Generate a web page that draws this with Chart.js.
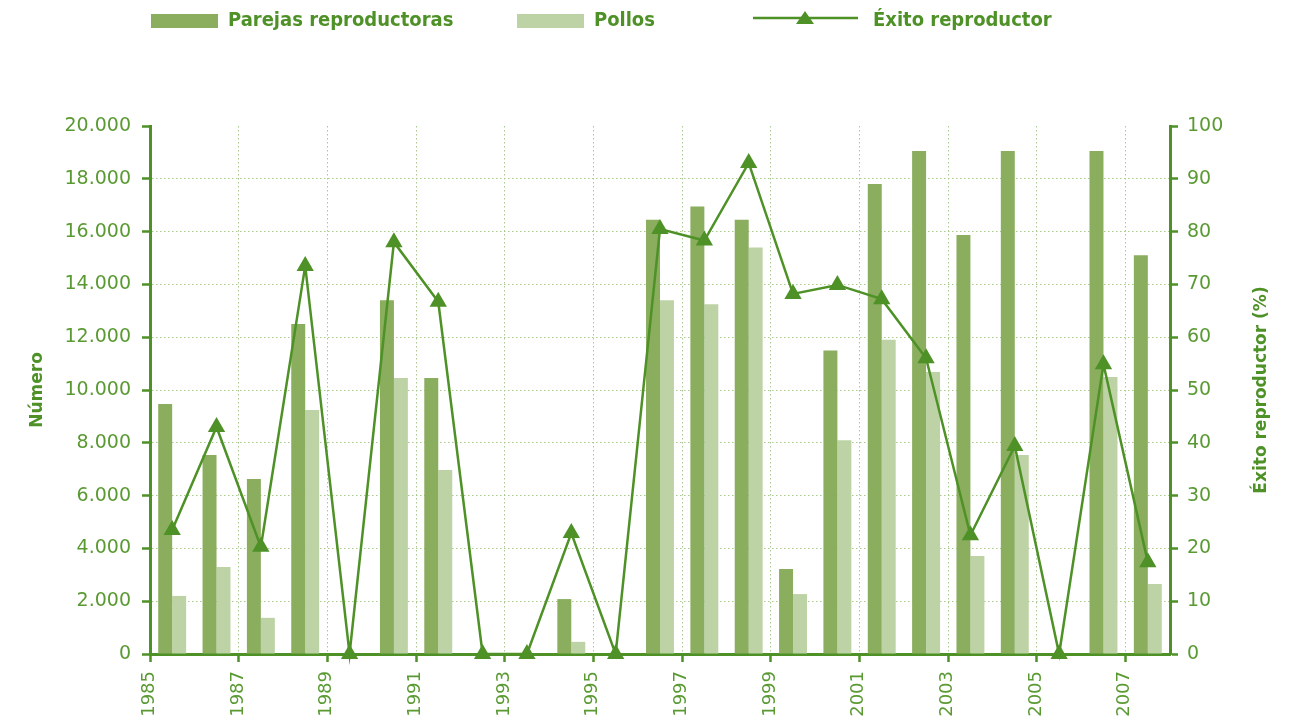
<!DOCTYPE html>
<html>
<head>
<meta charset="utf-8">
<script src="https://cdn.jsdelivr.net/npm/chart.js@4.4.1/dist/chart.umd.min.js"></script>
<style>
  body { margin: 0; background: #fff; }
  #wrap { position: relative; width: 1301px; height: 726px; }
  #legend { position: absolute; left: 0; top: 0; width: 1301px; height: 40px;
    font-family: "DejaVu Sans Condensed", "DejaVu Sans", sans-serif; font-stretch: condensed;
    font-weight: bold; font-size: 20px; color: #4e9127; }
  .item { position: absolute; top: 5px; line-height: 28px; white-space: nowrap; }
  .box { position: absolute; top: 14px; height: 14px; width: 67px; }
</style>
</head>
<body>
<div id="wrap">
  <canvas id="chart" width="1301" height="726"></canvas>
  <div id="legend">
    <div class="box" style="left:151px;background:#8aad5e"></div>
    <div class="item" style="left:228px">Parejas reproductoras</div>
    <div class="box" style="left:517px;background:#bed3a5"></div>
    <div class="item" style="left:594px">Pollos</div>
    <svg style="position:absolute;left:753px;top:8px" width="106" height="20">
      <line x1="0" y1="10" x2="105" y2="10" stroke="#4e9127" stroke-width="2.5"/>
      <polygon points="43,16 61,16 52,3" fill="#4e9127"/>
    </svg>
    <div class="item" style="left:873px">Éxito reproductor</div>
  </div>
</div>
<script>
// data
const years = ['1985','1986','1987','1988','1989','1990','1991','1992','1993','1994','1995','1996',
  '1997','1998','1999','2000','2001','2002','2003','2004','2005','2006','2007'];
const parejas = [9470, 7540, 6630, 12500, 0, 13400, 10450, 0, 0, 2080, 0, 16450,
  16950, 16450, 3220, 11500, 17800, 19050, 15870, 19050, 0, 19050, 15100];
const pollos = [2200, 3300, 1370, 9240, 0, 10450, 6970, 0, 0, 460, 0, 13400,
  13250, 15400, 2270, 8100, 11900, 10680, 3710, 7540, 0, 10490, 2650];
const exito = [23.5, 43, 20.3, 73.5, 0, 78, 66.7, 0, 0, 22.9, 0, 80.5,
  78.3, 93, 68.2, 69.9, 67.2, 56, 22.5, 39.4, 0, 54.9, 17.4];

const green = '#4e9127';
const tickGreen = '#5a9a33';
const gridGreen = '#a9c98f';

// right axis title, reading bottom to top
const rightTitle = {
  id: 'rightTitle',
  afterDraw(chart) {
    const ctx = chart.ctx;
    const a = chart.chartArea;
    ctx.save();
    ctx.translate(1262, (a.top + a.bottom) / 2);
    ctx.rotate(-Math.PI / 2);
    ctx.font = 'bold 17px "DejaVu Sans"';
    ctx.fillStyle = green;
    ctx.textAlign = 'center';
    ctx.textBaseline = 'middle';
    ctx.fillText('Éxito reproductor (%)', 0, 0);
    ctx.restore();
  }
};

new Chart(document.getElementById('chart'), {
  type: 'bar',
  data: {
    labels: years,
    datasets: [
      {
        type: 'line',
        label: 'Éxito reproductor',
        data: exito,
        yAxisID: 'y2',
        borderColor: green,
        backgroundColor: green,
        borderWidth: 2.5,
        pointStyle: 'triangle',
        pointRadius: 10,
        pointHoverRadius: 10,
        pointBackgroundColor: green,
        pointBorderWidth: 0,
        tension: 0,
        clip: false,
        order: 0
      },
      {
        label: 'Parejas reproductoras',
        data: parejas,
        backgroundColor: '#8aad5e',
        yAxisID: 'y',
        order: 1
      },
      {
        label: 'Pollos',
        data: pollos,
        backgroundColor: '#bed3a5',
        yAxisID: 'y',
        order: 1
      }
    ]
  },
  options: {
    responsive: false,
    animation: false,
    layout: { padding: { top: 126, left: 0, right: 0, bottom: 0 } },
    datasets: { bar: { barPercentage: 1, categoryPercentage: 0.63 } },
    plugins: { legend: { display: false }, tooltip: { enabled: false } },
    scales: {
      x: {
        afterFit: s => { s.height = 72; },
        grid: {
          offset: true,
          color: c => c.index % 2 === 0 ? gridGreen : 'rgba(0,0,0,0)',
          tickColor: c => c.index % 2 === 0 ? green : 'rgba(0,0,0,0)',
          tickLength: 8,
          tickWidth: 2.5,
          lineWidth: 1
        },
        border: { color: green, width: 3, dash: [1.5, 2.5] },
        ticks: {
          autoSkip: false,
          maxRotation: 90,
          minRotation: 90,
          labelOffset: -23,
          padding: 9,
          color: tickGreen,
          font: { family: 'DejaVu Sans', size: 18 },
          callback: (v, i) => i % 2 === 0 ? years[i] : ''
        }
      },
      y: {
        position: 'left',
        min: 0,
        max: 20000,
        afterFit: s => { s.width = 150; },
        grid: {
          color: c => (c.tick && c.tick.value === 20000) ? 'rgba(0,0,0,0)' : gridGreen,
          tickColor: green,
          tickLength: 8,
          tickWidth: 2.5,
          lineWidth: 1
        },
        border: { color: green, width: 3, dash: [1.5, 2.5] },
        ticks: {
          stepSize: 2000,
          padding: 11,
          color: tickGreen,
          font: { family: 'DejaVu Sans', size: 19 },
          callback: v => v.toLocaleString('de-DE')
        },
        title: {
          display: true,
          text: 'Número',
          color: green,
          font: { family: 'DejaVu Sans', size: 17, weight: 'bold' },
          padding: { top: 27, bottom: 0 }
        }
      },
      y2: {
        position: 'right',
        min: 0,
        max: 100,
        afterFit: s => { s.width = 131; },
        grid: {
          drawOnChartArea: false,
          tickColor: green,
          tickLength: 8,
          tickWidth: 2.5
        },
        border: { color: green, width: 3 },
        ticks: {
          stepSize: 10,
          padding: 9,
          color: tickGreen,
          font: { family: 'DejaVu Sans', size: 19 }
        }
      }
    }
  },
  plugins: [rightTitle]
});
</script>
</body>
</html>
